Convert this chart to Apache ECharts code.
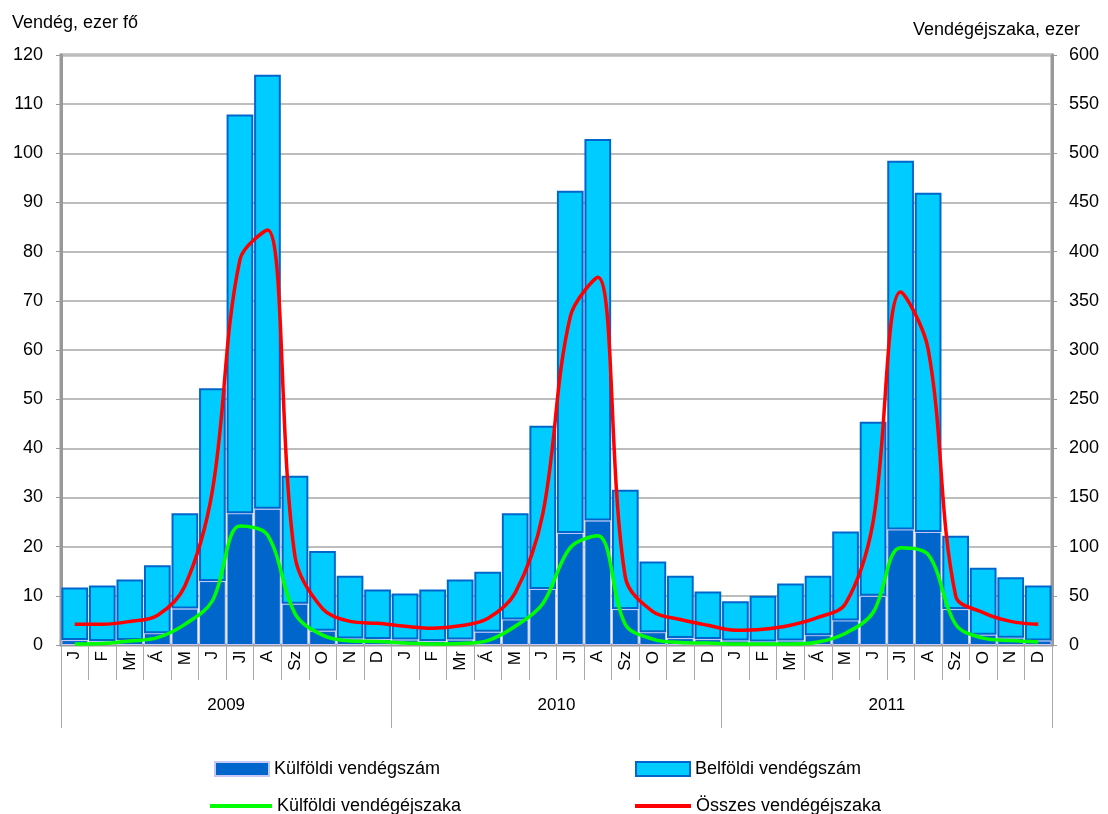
<!DOCTYPE html>
<html>
<head>
<meta charset="utf-8">
<script src="https://cdn.jsdelivr.net/npm/echarts@6/dist/echarts.min.js"></script>
<style>
html,body{margin:0;padding:0;background:#fff;}
#chart{width:1108px;height:814px;}
</style>
</head>
<body>
<div id="chart"></div>
<script>
var months = ['J','F','Mr','Á','M','J','Jl','A','Sz','O','N','D'];
var years = ['2009','2010','2011'];
var leftTicks = [0,10,20,30,40,50,60,70,80,90,100,110,120];
var rightTicks = [0,50,100,150,200,250,300,350,400,450,500,550,600];

// Külföldi vendégszám (ezer fő)
var kulfoldiVendeg = [
  1.0, 0.8, 1.0, 2.4, 7.4, 13.0, 26.8, 27.7, 8.4, 2.9, 1.3, 1.2,
  1.1, 0.8, 1.1, 2.7, 5.2, 11.4, 22.8, 25.3, 7.3, 2.6, 1.4, 1.2,
  0.9, 0.7, 0.9, 2.0, 5.0, 10.0, 23.5, 23.0, 7.3, 2.1, 1.5, 0.9
];
// Belföldi vendégszám (ezer fő)
var belfoldiVendeg = [
  10.7, 11.3, 12.3, 13.8, 19.4, 39.2, 81.1, 88.3, 26.0, 16.2, 12.8, 10.1,
  9.4, 10.5, 12.2, 12.2, 21.6, 33.2, 69.6, 77.6, 24.3, 14.4, 12.7, 9.7,
  8.0, 9.3, 11.6, 12.1, 18.1, 35.4, 75.0, 69.0, 14.9, 13.6, 12.3, 11.2
];
// Külföldi vendégéjszaka (ezer)
var kulfoldiEjszaka = [
  1, 1.5, 4, 7.5, 21, 45, 121, 112, 32, 10, 4, 3.5,
  2, 1, 1.5, 4.5, 19, 42, 99, 111, 21, 6, 2.5, 2,
  1, 1, 1, 3, 12, 33, 99, 92, 21, 7, 4.5, 3
];
// Összes vendégéjszaka (ezer)
var osszesEjszaka = [
  21, 21, 24, 30, 60, 157, 392, 422, 90, 37, 24, 22,
  19, 17, 19.5, 27, 53, 133, 334, 374, 69, 34, 26, 20,
  15, 16, 20, 28, 42, 125, 359, 301, 50, 33, 24, 21
];

var categories = [];
years.forEach(function(){ months.forEach(function(m){ categories.push(m); }); });

var FONT = "'Liberation Sans', Arial, sans-serif";
var chart = echarts.init(document.getElementById('chart'), null, {renderer:'canvas'});

function legendItem(name, left, top, w, h){
  return {
    data:[name], left:left, top:top, icon:'rect',
    itemWidth:w, itemHeight:h, itemGap:0,
    textStyle:{fontSize:18, color:'#000', fontFamily:FONT},
    selectedMode:false
  };
}

chart.setOption({
  animation:false,
  backgroundColor:'#fff',
  textStyle:{fontFamily:FONT, color:'#000'},
  title:[
    {text:'Vendég, ezer fő', left:7, top:9, textStyle:{fontSize:18, fontWeight:'normal', color:'#000', fontFamily:FONT}},
    {text:'Vendégéjszaka, ezer', right:23, top:16, textStyle:{fontSize:18, fontWeight:'normal', color:'#000', fontFamily:FONT}}
  ],
  legend:[
    legendItem('Külföldi vendégszám', 209, 755, 54, 14),
    legendItem('Belföldi vendégszám', 630, 755, 54, 14),
    legendItem('Külföldi vendégéjszaka', 205, 792, 62, 4),
    legendItem('Összes vendégéjszaka', 630, 792, 56, 4)
  ],
  grid:{left:61, right:56, top:55, bottom:169, show:true, borderColor:'#999', borderWidth:3, backgroundColor:'transparent'},
  xAxis:[
    {
      type:'category', data:categories, position:'bottom',
      axisLine:{show:true, lineStyle:{color:'#999', width:2}},
      axisTick:{show:true, interval:0, length:35, lineStyle:{color:'#aaa', width:1}},
      axisLabel:{interval:0, rotate:90, margin:6, fontSize:17, color:'#000', fontFamily:FONT},
      splitLine:{show:false}
    },
    {
      type:'category', data:years, position:'bottom',
      axisLine:{show:false},
      axisTick:{show:true, interval:0, length:83, lineStyle:{color:'#aaa', width:1}},
      axisLabel:{interval:0, margin:52, fontSize:17, color:'#000', fontFamily:FONT},
      splitLine:{show:false}
    }
  ],
  yAxis:[
    {
      type:'value', min:leftTicks[0], max:leftTicks[leftTicks.length-1], interval:leftTicks[1]-leftTicks[0],
      axisLine:{show:true, lineStyle:{color:'#999', width:3}},
      axisTick:{show:true, length:5, lineStyle:{color:'#999'}},
      axisLabel:{margin:18, fontSize:18, color:'#000', fontFamily:FONT},
      splitLine:{show:true, lineStyle:{color:'#bdbdbd', width:2}}
    },
    {
      type:'value', min:rightTicks[0], max:rightTicks[rightTicks.length-1], interval:rightTicks[1]-rightTicks[0],
      position:'right',
      axisLine:{show:true, lineStyle:{color:'#999', width:3}},
      axisTick:{show:true, length:5, lineStyle:{color:'#999'}},
      axisLabel:{margin:17, fontSize:18, color:'#000', fontFamily:FONT},
      splitLine:{show:false}
    }
  ],
  series:[
    {
      name:'Külföldi vendégszám', type:'bar', stack:'vendeg', xAxisIndex:0, yAxisIndex:0,
      data:kulfoldiVendeg, barCategoryGap:'3%',
      itemStyle:{color:'#0066CC', borderColor:'#C8C8F8', borderWidth:1}
    },
    {
      name:'Belföldi vendégszám', type:'bar', stack:'vendeg', xAxisIndex:0, yAxisIndex:0,
      data:belfoldiVendeg, barCategoryGap:'3%',
      itemStyle:{color:'#00CCFF', borderColor:'#0066CC', borderWidth:2}
    },
    {
      name:'Külföldi vendégéjszaka', type:'line', xAxisIndex:0, yAxisIndex:1,
      data:kulfoldiEjszaka, smooth:0.35, showSymbol:false, symbol:'none', z:5,
      lineStyle:{color:'#00FF00', width:3.5}, itemStyle:{color:'#00FF00'}
    },
    {
      name:'Összes vendégéjszaka', type:'line', xAxisIndex:0, yAxisIndex:1,
      data:osszesEjszaka, smooth:0.35, showSymbol:false, symbol:'none', z:6,
      lineStyle:{color:'#FF0000', width:3.5}, itemStyle:{color:'#FF0000'}
    }
  ]
});
</script>
</body>
</html>
